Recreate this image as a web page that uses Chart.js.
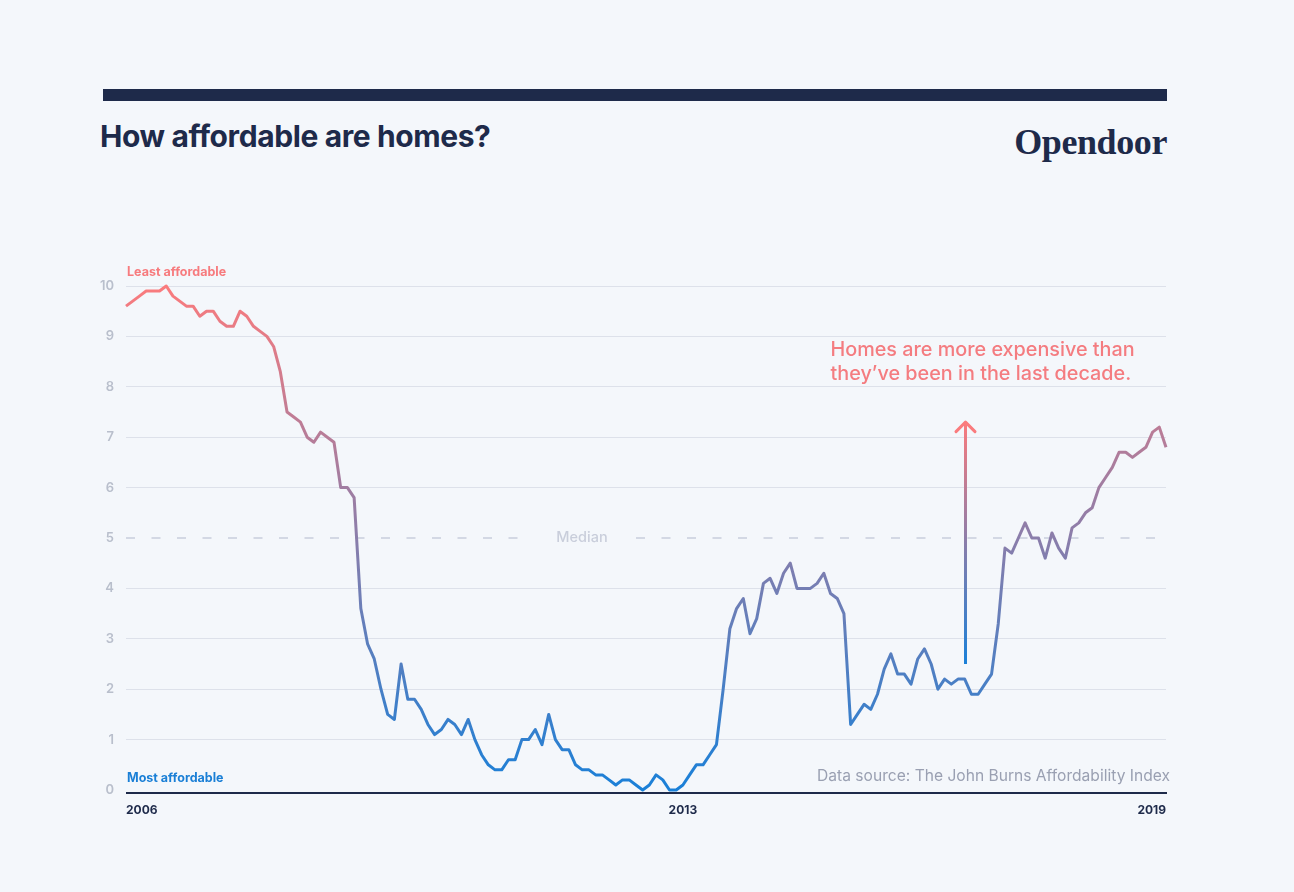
<!DOCTYPE html>
<html>
<head>
<meta charset="utf-8">
<script src="https://cdn.jsdelivr.net/npm/chart.js@4.4.1/dist/chart.umd.min.js"></script>
<style>
  html, body { margin: 0; padding: 0; background: #f4f7fb; }
  #wrap { position: relative; width: 1294px; height: 892px; overflow: hidden; }
  #topBar { position: absolute; left: 103px; top: 89px; width: 1064px; height: 12px; background: #1e2a4a; }
  #title { position: absolute; left: 100px; top: 118px; font: 700 30px Inter, sans-serif; color: #1e2a4a; letter-spacing: -0.4px; }
  #logo { position: absolute; right: 127px; top: 121px; font: 700 36px "Liberation Serif", "DejaVu Serif", serif; color: #1e2a4a; letter-spacing: -0.4px; }
  #myChart { position: absolute; left: 0; top: 0; }
</style>
</head>
<body>
<div id="wrap">
  <div id="topBar"></div>
  <div id="title">How affordable are homes?</div>
  <div id="logo">Opendoor</div>
  <canvas id="myChart" width="1294" height="892"></canvas>
</div>
<script>
// John Burns affordability index, monthly Jan 2006 - Dec 2018
const affordability = [
  9.6, 9.7, 9.8, 9.9, 9.9, 9.9, 10.0, 9.8, 9.7, 9.6, 9.6, 9.4,   // 2006
  9.5, 9.5, 9.3, 9.2, 9.2, 9.5, 9.4, 9.2, 9.1, 9.0, 8.8, 8.3,    // 2007
  7.5, 7.4, 7.3, 7.0, 6.9, 7.1, 7.0, 6.9, 6.0, 6.0, 5.8, 3.6,    // 2008
  2.9, 2.6, 2.0, 1.5, 1.4, 2.5, 1.8, 1.8, 1.6, 1.3, 1.1, 1.2,    // 2009
  1.4, 1.3, 1.1, 1.4, 1.0, 0.7, 0.5, 0.4, 0.4, 0.6, 0.6, 1.0,    // 2010
  1.0, 1.2, 0.9, 1.5, 1.0, 0.8, 0.8, 0.5, 0.4, 0.4, 0.3, 0.3,    // 2011
  0.2, 0.1, 0.2, 0.2, 0.1, 0.0, 0.1, 0.3, 0.2, 0.0, 0.0, 0.1,    // 2012
  0.3, 0.5, 0.5, 0.7, 0.9, 2.0, 3.2, 3.6, 3.8, 3.1, 3.4, 4.1,    // 2013
  4.2, 3.9, 4.3, 4.5, 4.0, 4.0, 4.0, 4.1, 4.3, 3.9, 3.8, 3.5,    // 2014
  1.3, 1.5, 1.7, 1.6, 1.9, 2.4, 2.7, 2.3, 2.3, 2.1, 2.6, 2.8,    // 2015
  2.5, 2.0, 2.2, 2.1, 2.2, 2.2, 1.9, 1.9, 2.1, 2.3, 3.3, 4.8,    // 2016
  4.7, 5.0, 5.3, 5.0, 5.0, 4.6, 5.1, 4.8, 4.6, 5.2, 5.3, 5.5,    // 2017
  5.6, 6.0, 6.2, 6.4, 6.7, 6.7, 6.6, 6.7, 6.8, 7.1, 7.2, 6.8     // 2018
];
const startYear = 2006;
const months = affordability.map((v, i) => (startYear + Math.floor(i / 12)) + '-' + String(i % 12 + 1).padStart(2, '0'));

// x tick labels and where they sit
const yearLabels = ['2006', '2013', '2019'];
const yearTickIndex = [0, 83, 155];

const medianValue = 5;
const topLabel = 'Least affordable';
const bottomLabel = 'Most affordable';
const sourceText = 'Data source: The John Burns Affordability Index';
const noteLines = ['Homes are more expensive than', 'they\u2019ve been in the last decade.'];
// arrow: category index, from value, to value
const arrowAt = [125, 2.5, 7.3];

const RED = '#fa7b7d';
const BLUE = '#1a80d8';
const NAVY = '#1e2a4a';

function vGradient(c, yBottom, yTop) {
  const g = c.createLinearGradient(0, yBottom, 0, yTop);
  g.addColorStop(0, BLUE);
  g.addColorStop(1, RED);
  return g;
}

const decor = {
  id: 'decor',
  beforeDatasetsDraw(chart) {
    const { ctx: c, chartArea: a, scales: { y } } = chart;
    const my = y.getPixelForValue(medianValue);
    const mx = 582;
    c.save();
    c.strokeStyle = '#d3d8e4';
    c.lineWidth = 2;
    c.setLineDash([9, 16.5]);
    c.beginPath();
    c.moveTo(a.left, my);
    c.lineTo(a.right, my);
    c.stroke();
    c.setLineDash([]);
    c.fillStyle = '#f4f7fb';
    c.fillRect(mx - 52, my - 4, 104, 8);
    c.fillStyle = '#c9cedb';
    c.font = '500 14.5px Inter, sans-serif';
    c.textAlign = 'center';
    c.textBaseline = 'middle';
    c.fillText('Median', mx, my);

    // bottom axis rule, sitting just under the zero line
    c.strokeStyle = NAVY;
    c.lineWidth = 2;
    c.beginPath();
    c.moveTo(a.left, a.bottom + 3);
    c.lineTo(a.right + 1, a.bottom + 3);
    c.stroke();
    c.restore();
  },
  afterDatasetsDraw(chart) {
    const { ctx: c, chartArea: a, scales: { x, y } } = chart;
    const ax = Math.round(x.getPixelForValue(arrowAt[0])) + 0.5;
    const y0 = y.getPixelForValue(arrowAt[1]);
    const y1 = y.getPixelForValue(arrowAt[2]);
    c.save();
    const g = vGradient(c, y0, y1);
    c.strokeStyle = g;
    c.lineWidth = 3;
    c.lineCap = 'butt';
    c.beginPath();
    c.moveTo(ax, y0);
    c.lineTo(ax, y1 + 1);
    c.stroke();
    c.lineCap = 'round';
    c.lineJoin = 'round';
    c.strokeStyle = RED;
    c.beginPath();
    c.moveTo(ax - 9.5, y1 + 9.5);
    c.lineTo(ax, y1);
    c.lineTo(ax + 9.5, y1 + 9.5);
    c.stroke();

    c.fillStyle = '#f47c80';
    c.font = '500 19.8px Inter, sans-serif';
    c.textAlign = 'left';
    c.textBaseline = 'middle';
    c.fillText(noteLines[0], ax - 135, y1 - 72);
    c.fillText(noteLines[1], ax - 135, y1 - 48);

    c.font = '700 12.5px Inter, sans-serif';
    c.fillStyle = '#f77b7e';
    c.fillText(topLabel, a.left + 1, a.top - 14);
    c.fillStyle = '#1a7fd6';
    c.fillText(bottomLabel, a.left + 1, a.bottom - 12);

    c.font = '400 15.6px Inter, sans-serif';
    c.fillStyle = '#9aa0b2';
    c.textAlign = 'right';
    c.fillText(sourceText, a.right + 4, a.bottom - 14);
    c.restore();
  }
};

const ctx = document.getElementById('myChart').getContext('2d');

const myChart = new Chart(ctx, {
  type: 'line',
  data: {
    labels: months,
    datasets: [{
      label: 'Affordability index',
      data: affordability,
      borderWidth: 3,
      pointRadius: 0,
      tension: 0,
      clip: false,
      borderJoinStyle: 'round',
      borderColor: (context) => {
        const { chart } = context;
        if (!chart.chartArea) return RED;
        return vGradient(chart.ctx, chart.scales.y.getPixelForValue(0), chart.scales.y.getPixelForValue(10));
      }
    }]
  },
  options: {
    responsive: false,
    animation: false,
    events: [],
    layout: { padding: { left: 100, right: 128, top: 286, bottom: 72 } },
    plugins: {
      legend: { display: false },
      tooltip: { enabled: false }
    },
    scales: {
      x: {
        grid: { display: false, drawTicks: false },
        border: { display: false },
        afterBuildTicks: (scale) => {
          scale.ticks = yearTickIndex.map(v => ({ value: v }));
        },
        afterFit: (scale) => { scale.height = 30; },
        ticks: {
          autoSkip: false,
          maxRotation: 0,
          minRotation: 0,
          align: 'inner',
          padding: 13,
          color: NAVY,
          font: { family: 'Inter', size: 12, weight: '700' },
          callback: (value) => yearLabels[yearTickIndex.indexOf(value)]
        }
      },
      y: {
        min: 0,
        max: 10,
        border: { display: false },
        grid: {
          drawTicks: false,
          lineWidth: 1,
          color: (c) => (c.tick.value === medianValue || c.tick.value === 0) ? 'rgba(0,0,0,0)' : '#dde1ea'
        },
        afterFit: (scale) => { scale.width = 26; },
        ticks: {
          stepSize: 1,
          padding: 12,
          color: '#b9bfcc',
          font: { family: 'Inter', size: 13, weight: '600' }
        }
      }
    }
  },
  plugins: [decor]
});
</script>
</body>
</html>
